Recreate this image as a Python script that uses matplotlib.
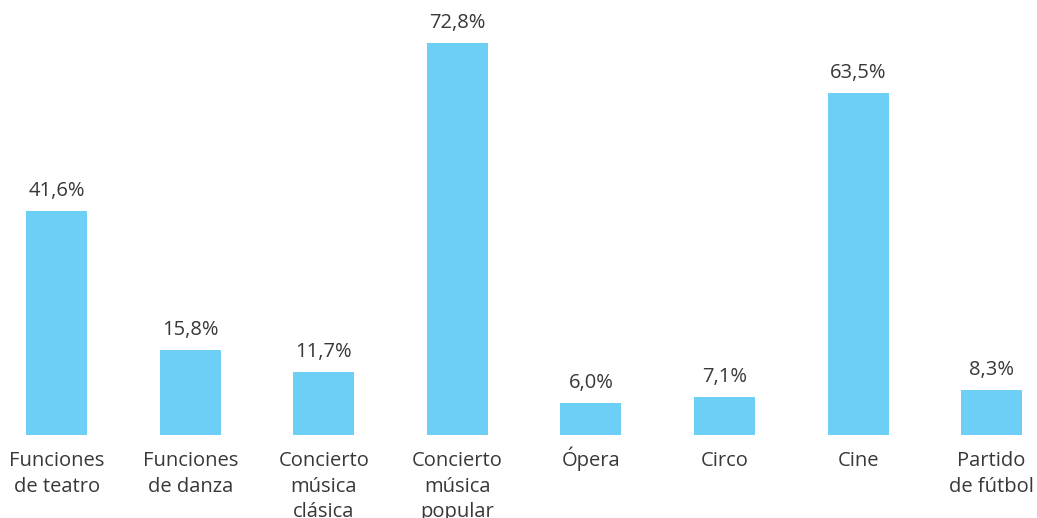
import matplotlib
matplotlib.use("Agg")
import matplotlib.pyplot as plt

categories = ["Funciones\nde teatro", "Funciones\nde danza", "Concierto\nmúsica\nclásica",
              "Concierto\nmúsica\npopular", "Ópera", "Circo", "Cine", "Partido\nde fútbol"]
values = [41.6, 15.8, 11.7, 72.8, 6.0, 7.1, 63.5, 8.3]
value_labels = ["41,6%", "15,8%", "11,7%", "72,8%", "6,0%", "7,1%", "63,5%", "8,3%"]

plt.rcParams['font.family'] = ['Open Sans', 'DejaVu Sans']
text_color = "#383838"
bar_color = "#6DCFF6"
px = 72 / 100  # points per pixel

fig = plt.figure(figsize=(10.37, 5.18), dpi=100)
ax = fig.add_axes([0, 0.1602, 1, 0.8398])
x = list(range(len(values)))
ax.bar(x, values, width=0.457, color=bar_color)
ax.set_xlim(-0.424, 7.34)
ax.set_ylim(0, 80.78)
ax.axis('off')

for i, (v, lab) in enumerate(zip(values, value_labels)):
    ax.annotate(lab, (i, v), xytext=(0, 15 * px), textcoords='offset points',
                ha='center', va='baseline', fontsize=14.5, fontweight='normal', color=text_color)
for i, c in enumerate(categories):
    for j, line in enumerate(c.split("\n")):
        ax.annotate(line, (i, 0), xytext=(0, -(31 + 25.5 * j) * px), textcoords='offset points',
                    ha='center', va='baseline', fontsize=14.5, fontweight='normal', color=text_color,
                    annotation_clip=False)

fig.savefig("out.png", dpi=100)
